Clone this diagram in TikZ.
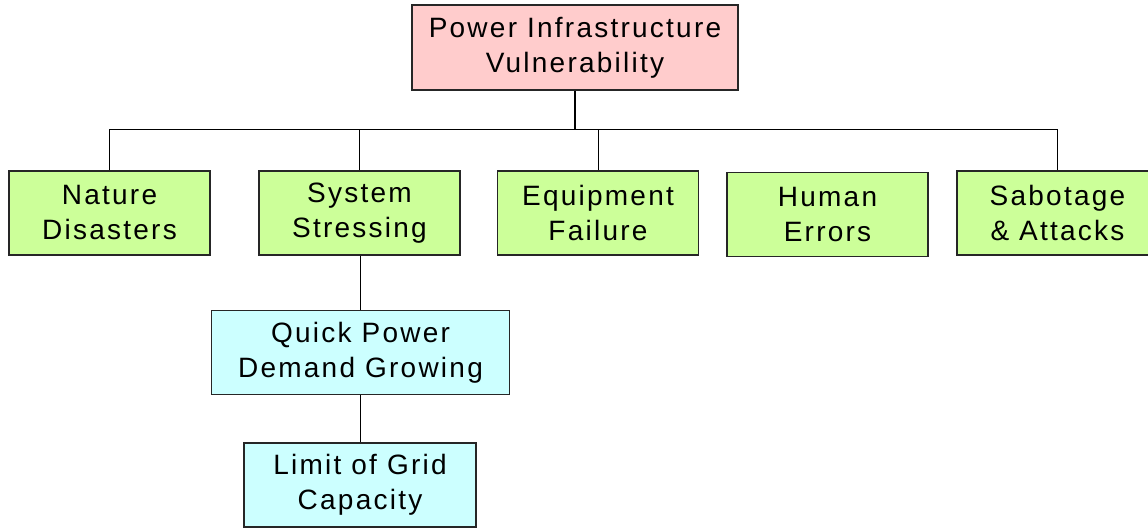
\documentclass[tikz,border=0pt]{standalone}
\usepackage{fontspec}
\setmainfont{Liberation Sans}[LetterSpace=8]
\definecolor{rootfill}{HTML}{FFCCCC}
\definecolor{causefill}{HTML}{CCFF99}
\definecolor{subfill}{HTML}{CCFFFF}
\begin{document}
\begin{tikzpicture}[x=1pt,y=-1pt,
  box/.style={draw=black!85, line width=1.2pt, rectangle, align=center,
    inner sep=0pt, font=\fontsize{28}{35}\selectfont},
  rootbox/.style={box, fill=rootfill, minimum width=326pt, minimum height=85pt},
  causebox/.style={box, fill=causefill, minimum width=201pt, minimum height=84pt},
  subbox/.style={box, fill=subfill, minimum height=84pt},
  link/.style={draw=black, line width=1pt},
  trunk/.style={draw=black, line width=2pt}]
\useasboundingbox (0,0) rectangle (1148,529);

% top of the tree
\node[rootbox] (root) at (575,47.5) {Power Infrastructure\\Vulnerability};

% the five kinds of cause
\node[causebox] (nature) at (109.5,213) {Nature\\Disasters};
\node[causebox] (stress) at (359.5,213) {System\\Stressing};
\node[causebox] (equip)  at (598,213)   {Equipment\\Failure};
\node[causebox] (human)  at (827.5,214.5) {Human\\Errors};
\node[causebox] (sabot)  at (1057.5,213) {Sabotage\\\& Attacks};

% chain under system stressing
\node[subbox, minimum width=298pt] (demand) at (360.5,352.5) {Quick Power\\Demand Growing};
\node[subbox, minimum width=232pt] (grid)   at (360,485)     {Limit of Grid\\Capacity};

% bus line joining the causes
\coordinate (bus) at (0,130);
\draw[link] (nature.north) -- (nature.north |- bus) -- (sabot.north |- bus) -- (sabot.north);
\draw[link] (stress.north) -- (stress.north |- bus);
\draw[link] (equip.north) -- (equip.north |- bus);
\draw[trunk] (root.south) -- (root.south |- bus);

% chain links
\draw[link] (stress.south -| grid.north) -- (demand.north -| grid.north);
\draw[link] (demand.south -| grid.north) -- (grid.north);
\end{tikzpicture}
\end{document}
